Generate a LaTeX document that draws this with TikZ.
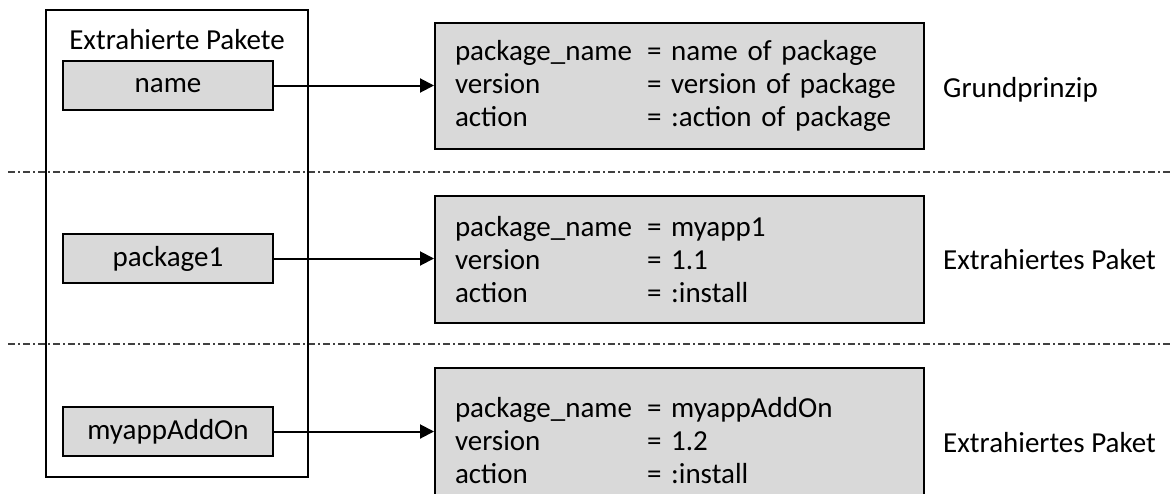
\documentclass[tikz,border=0pt]{standalone}
\usepackage{fontspec}
\setmainfont{Carlito}
\usetikzlibrary{arrows.meta}
\definecolor{boxgray}{HTML}{D9D9D9}
\definecolor{sepgray}{HTML}{404040}
% key/value line inside an info box: fixed-width key column
\newcommand{\kvline}[2]{\makebox[192pt][l]{#1}= #2}
\begin{document}
\begin{tikzpicture}[x=1pt,y=-1pt,
  every node/.style={font=\fontsize{29}{33}\selectfont},
  keybox/.style={draw, line width=2pt, fill=boxgray, minimum width=210pt,
    minimum height=49pt, inner sep=0pt},
  infobox/.style={draw, line width=2pt, fill=boxgray, text width=449pt,
    inner xsep=20pt, inner ysep=0pt, align=left},
  link/.style={line width=2pt, -{Triangle[length=14pt,width=14pt]}},
  divider/.style={sepgray, line width=1.2pt, dash pattern=on 7pt off 3pt on 2pt off 3pt},
  caption/.style={anchor=base west, inner sep=0pt}]
\useasboundingbox (0,0) rectangle (1170,493);
\clip (0,0) rectangle (1170,493);

% section dividers
\draw[divider] (8,172) -- (1170,172);
\draw[divider] (8,344) -- (1170,344);

% container of extracted packages
\node[draw, line width=2pt, minimum width=262pt, minimum height=467pt, inner sep=0pt]
  (container) at (177,243.5) {};
\node[inner sep=0pt] (title) at (177,40) {Extrahierte Pakete};

% package keys
\node[keybox] (k1) at (168,85.5) {name};
\node[keybox] (k2) at (168,258.5) {package1};
\node[keybox] (k3) at (168,431.5) {myappAddOn};

% package records
\node[infobox, minimum height=126pt] (r1) at (679.5,86) {%
  \kvline{package\_name}{name of package}\\
  \kvline{version}{version of package}\\
  \kvline{action}{:action of package}};
\node[infobox, minimum height=127pt] (r2) at (679.5,259.5) {%
  \kvline{package\_name}{myapp1}\\
  \kvline{version}{1.1}\\
  \kvline{action}{:install}};
\node[infobox, minimum height=146pt] (r3) at (679.5,441) {%
  \kvline{package\_name}{myappAddOn}\\
  \kvline{version}{1.2}\\
  \kvline{action}{:install}};

% links from keys to records
\draw[link] (k1.east) -- (k1.east -| r1.west);
\draw[link] (k2.east) -- (k2.east -| r2.west);
\draw[link] (k3.east) -- (k3.east -| r3.west);

% row captions
\node[caption] (c1) at (943,97) {Grundprinzip};
\node[caption] (c2) at (943,269) {Extrahiertes Paket};
\node[caption] (c3) at (943,452) {Extrahiertes Paket};
\end{tikzpicture}
\end{document}
